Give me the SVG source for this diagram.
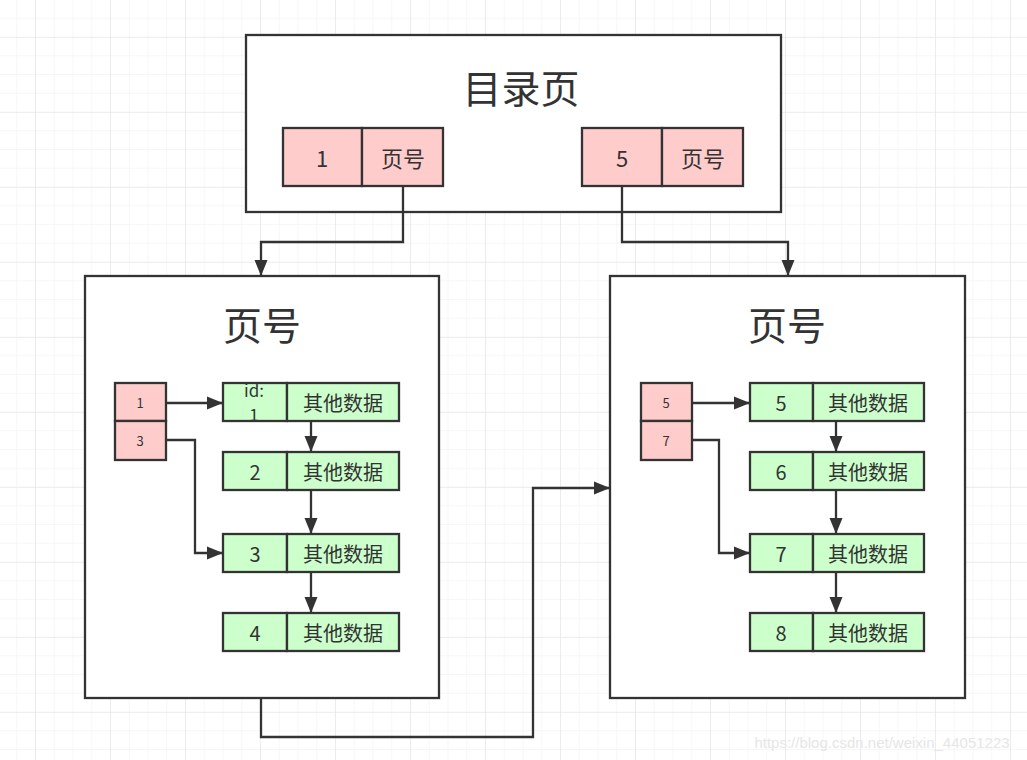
<svg xmlns="http://www.w3.org/2000/svg" width="1027" height="760" viewBox="0 0 1027 760">
<defs>
<pattern id="gmin" width="18.75" height="18.75" patternUnits="userSpaceOnUse" x="-1.5" y="0">
<path d="M18.75 0V18.75M0 18.75H18.75" fill="none" stroke="#efefef" stroke-width="1"/>
</pattern>
<pattern id="gmaj" width="75" height="75" patternUnits="userSpaceOnUse" x="35" y="37">
<path d="M0 0V75M0 0H75" fill="none" stroke="#e4e4e4" stroke-width="1.2"/>
</pattern>
<marker id="arrL" markerWidth="16" markerHeight="14" refX="15" refY="7" orient="auto" markerUnits="userSpaceOnUse" viewBox="0 0 16 14">
<path d="M0 0.5L16 7L0 13.5Z" fill="#333"/>
</marker>
</defs>
<style>
.box{fill:#fff;stroke:#333;stroke-width:2.3}
.pk{fill:#ffcccc;stroke:#333;stroke-width:2.3}
.gr{fill:#ccffcc;stroke:#333;stroke-width:2.3}
text{font-family:"Noto Sans CJK SC","Noto Sans",sans-serif;fill:#333;text-anchor:middle;dominant-baseline:central}
.t1{font-size:39px}
.t2{font-size:22px}
.t3{font-size:20px}
.t4{font-size:13px}
.con{fill:none;stroke:#333;stroke-width:2.3}
</style>
<rect width="1027" height="760" fill="#fff"/>
<rect width="1027" height="760" fill="url(#gmin)"/>
<rect width="1027" height="760" fill="url(#gmaj)"/>

<g id="dir-page">
<rect class="box" x="246" y="35" width="535" height="177"/>
<text class="t1" x="521" y="86">目录页</text>
<rect class="pk" x="283" y="128" width="79" height="58"/>
<rect class="pk" x="362" y="128" width="81" height="58"/>
<text class="t2" x="322" y="157">1</text>
<text class="t2" x="403" y="157">页号</text>
<rect class="pk" x="582" y="128" width="80" height="58"/>
<rect class="pk" x="662" y="128" width="81" height="58"/>
<text class="t2" x="622" y="157">5</text>
<text class="t2" x="703" y="157">页号</text>
</g>

<g id="page-left">
<rect class="box" x="85" y="276" width="354" height="422"/>
<text class="t1" x="262" y="323">页号</text>
<rect class="pk" x="115" y="383" width="51" height="38"/>
<rect class="pk" x="115" y="421" width="51" height="39"/>
<text class="t4" x="140" y="402">1</text>
<text class="t4" x="140" y="440">3</text>
</g>
<g id="row-l1">
<rect class="gr" x="223" y="383" width="64" height="38"/>
<rect class="gr" x="287" y="383" width="112" height="38"/>
<text x="254" y="389" style="font-size:17px">id:</text>
<text x="254" y="413" style="font-size:17px">1</text>
<text class="t3" x="343" y="402">其他数据</text>
</g>
<g id="row-l2">
<rect class="gr" x="223" y="452" width="64" height="38"/>
<rect class="gr" x="287" y="452" width="112" height="38"/>
<text class="t3" x="255" y="471">2</text>
<text class="t3" x="343" y="471">其他数据</text>
</g>
<g id="row-l3">
<rect class="gr" x="223" y="534" width="64" height="38"/>
<rect class="gr" x="287" y="534" width="112" height="38"/>
<text class="t3" x="255" y="553">3</text>
<text class="t3" x="343" y="553">其他数据</text>
</g>
<g id="row-l4">
<rect class="gr" x="223" y="613" width="64" height="38"/>
<rect class="gr" x="287" y="613" width="112" height="38"/>
<text class="t3" x="255" y="632">4</text>
<text class="t3" x="343" y="632">其他数据</text>
</g>

<g id="page-right">
<rect class="box" x="610" y="276" width="355" height="422"/>
<text class="t1" x="787" y="323">页号</text>
<rect class="pk" x="641" y="383" width="51" height="38"/>
<rect class="pk" x="641" y="421" width="51" height="39"/>
<text class="t4" x="666" y="402">5</text>
<text class="t4" x="666" y="440">7</text>
</g>
<g id="row-r5">
<rect class="gr" x="750" y="383" width="63" height="38"/>
<rect class="gr" x="813" y="383" width="111" height="38"/>
<text class="t3" x="781" y="402">5</text>
<text class="t3" x="868" y="402">其他数据</text>
</g>
<g id="row-r6">
<rect class="gr" x="750" y="452" width="63" height="38"/>
<rect class="gr" x="813" y="452" width="111" height="38"/>
<text class="t3" x="781" y="471">6</text>
<text class="t3" x="868" y="471">其他数据</text>
</g>
<g id="row-r7">
<rect class="gr" x="750" y="534" width="63" height="38"/>
<rect class="gr" x="813" y="534" width="111" height="38"/>
<text class="t3" x="781" y="553">7</text>
<text class="t3" x="868" y="553">其他数据</text>
</g>
<g id="row-r8">
<rect class="gr" x="750" y="613" width="63" height="38"/>
<rect class="gr" x="813" y="613" width="111" height="38"/>
<text class="t3" x="781" y="632">8</text>
<text class="t3" x="868" y="632">其他数据</text>
</g>

<g id="connectors">
<path class="con" d="M403 186V242H261V275" marker-end="url(#arrL)"/>
<path class="con" d="M622 186V242H788V275" marker-end="url(#arrL)"/>
<path class="con" d="M166 403H222" marker-end="url(#arrL)"/>
<path class="con" d="M166 440H195V553H222" marker-end="url(#arrL)"/>
<path class="con" d="M311 421V451" marker-end="url(#arrL)"/>
<path class="con" d="M311 490V533" marker-end="url(#arrL)"/>
<path class="con" d="M311 572V612" marker-end="url(#arrL)"/>
<path class="con" d="M692 403H749" marker-end="url(#arrL)"/>
<path class="con" d="M692 440H719V553H749" marker-end="url(#arrL)"/>
<path class="con" d="M836 421V451" marker-end="url(#arrL)"/>
<path class="con" d="M836 490V533" marker-end="url(#arrL)"/>
<path class="con" d="M836 572V612" marker-end="url(#arrL)"/>
<path class="con" d="M261 698V737H533V488H609" marker-end="url(#arrL)"/>
</g>

<text x="882" y="742" style="font-family:'Liberation Sans',Arial,sans-serif;font-size:15px;fill:#e6e6e6">https://blog.csdn.net/weixin_44051223</text>
</svg>
